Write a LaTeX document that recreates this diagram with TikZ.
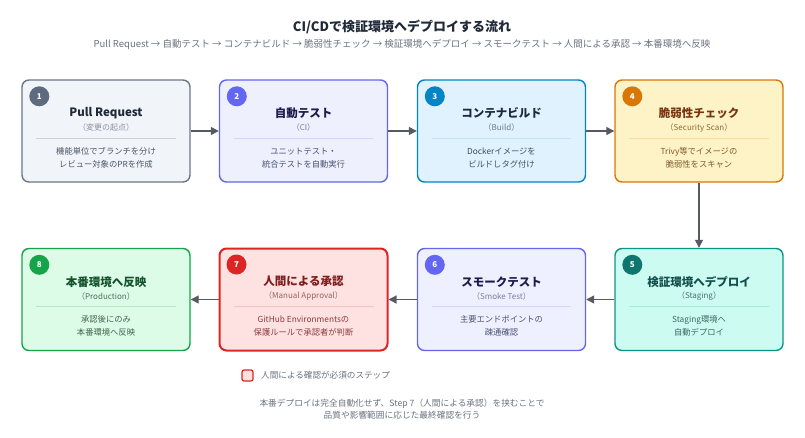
\documentclass[tikz,border=0pt]{standalone}
\usepackage{fontspec}
\setmainfont{Noto Sans CJK JP}
\usetikzlibrary{calc,arrows.meta}
\definecolor{ink}{HTML}{1F2937}
\definecolor{muted}{HTML}{6B7280}
\definecolor{arrowc}{HTML}{555A63}
% step colours: f fill, d border, b badge, t title, s subtitle, x body, v divider
\definecolor{f1}{HTML}{F1F4F9}\definecolor{d1}{HTML}{6B7789}\definecolor{b1}{HTML}{5E6A7E}\definecolor{t1}{HTML}{1F2937}\definecolor{s1}{HTML}{8A929E}\definecolor{x1}{HTML}{4B5563}\definecolor{v1}{HTML}{CDD2DA}
\definecolor{f2}{HTML}{EEF0FE}\definecolor{d2}{HTML}{6366F1}\definecolor{b2}{HTML}{6366F1}\definecolor{t2}{HTML}{1E1B4B}\definecolor{s2}{HTML}{7A7F9A}\definecolor{x2}{HTML}{4B5070}\definecolor{v2}{HTML}{D3D7FB}
\definecolor{f3}{HTML}{E0F2FE}\definecolor{d3}{HTML}{0284C7}\definecolor{b3}{HTML}{0284C7}\definecolor{t3}{HTML}{1E293B}\definecolor{s3}{HTML}{6B7A8A}\definecolor{x3}{HTML}{3F4E5E}\definecolor{v3}{HTML}{C3E3F7}
\definecolor{f4}{HTML}{FEF3C7}\definecolor{d4}{HTML}{D97706}\definecolor{b4}{HTML}{D97706}\definecolor{t4}{HTML}{78350F}\definecolor{s4}{HTML}{8A6A3A}\definecolor{x4}{HTML}{7C5A2A}\definecolor{v4}{HTML}{F8DFA0}
\definecolor{f5}{HTML}{CCFBF1}\definecolor{d5}{HTML}{0D9488}\definecolor{b5}{HTML}{0F766E}\definecolor{t5}{HTML}{134E4A}\definecolor{s5}{HTML}{4F706C}\definecolor{x5}{HTML}{3E6662}\definecolor{v5}{HTML}{A7EADD}
\definecolor{f6}{HTML}{EEF0FF}\definecolor{d6}{HTML}{6366F1}\definecolor{b6}{HTML}{6366F1}\definecolor{t6}{HTML}{1E1B4B}\definecolor{s6}{HTML}{7A7F9A}\definecolor{x6}{HTML}{4B5070}\definecolor{v6}{HTML}{D3D7FB}
\definecolor{f7}{HTML}{FEE2E2}\definecolor{d7}{HTML}{DC2626}\definecolor{b7}{HTML}{DC2626}\definecolor{t7}{HTML}{7F1D1D}\definecolor{s7}{HTML}{9A6060}\definecolor{x7}{HTML}{8B3A3A}\definecolor{v7}{HTML}{F5C2C2}
\definecolor{f8}{HTML}{DCFCE7}\definecolor{d8}{HTML}{16A34A}\definecolor{b8}{HTML}{16A34A}\definecolor{t8}{HTML}{14532D}\definecolor{s8}{HTML}{4F6F58}\definecolor{x8}{HTML}{3F6349}\definecolor{v8}{HTML}{B6E8C6}
\tikzset{
  stepbox/.style={rectangle, rounded corners=7pt, line width=1.4pt, minimum width=168pt, minimum height=102pt, inner sep=0pt},
  badge/.style={circle, minimum size=20pt, inner sep=0pt, text=white, font=\fontsize{8}{9}\selectfont\bfseries},
  steptitle/.style={font=\fontsize{11.5}{13}\selectfont\bfseries, inner sep=0pt},
  stepsub/.style={font=\fontsize{8}{9}\selectfont, inner sep=0pt},
  stepbody/.style={font=\fontsize{8.3}{13}\selectfont, align=center, inner sep=0pt},
  flow/.style={draw=arrowc, line width=1.3pt, -{Triangle[length=8pt,width=8pt]}},
}
\newcommand\mkstep[8]{%
  \node[stepbox, fill=f#1, draw=d#1, #8] (s#1) at (#2,#3) {};
  \node[badge, fill=b#1] (s#1b) at ($(s#1.north west)+(18,17)$) {#1};
  \node[steptitle, text=t#1] (s#1t) at ($(s#1.north)+(0,34)$) {#4};
  \node[stepsub, text=s#1] (s#1s) at ($(s#1.north)+(0,48.5)$) {#5};
  \draw[draw=v#1, line width=0.8pt] ($(s#1.north west)+(15,59)$) -- ($(s#1.north east)+(-15,59)$);
  \node[stepbody, text=x#1] (s#1x) at ($(s#1.north)+(0,78.5)$) {#6\\#7};
}
\begin{document}
\begin{tikzpicture}[x=1pt,y=-1pt]
\useasboundingbox[fill=white] (0,0) rectangle (805,437);
\node[font=\fontsize{13}{15}\selectfont\bfseries, text=ink] (title) at (402,27) {CI/CDで検証環境へデプロイする流れ};
\node[font=\fontsize{9.5}{11}\selectfont, text=muted] (subtitle) at (402,44.5) {Pull Request → 自動テスト → コンテナビルド → 脆弱性チェック → 検証環境へデプロイ → スモークテスト → 人間による承認 → 本番環境へ反映};
\mkstep{1}{106}{131}{Pull Request}{（変更の起点）}{機能単位でブランチを分け}{レビュー対象のPRを作成}{}
\mkstep{2}{303.5}{131}{自動テスト}{（CI）}{ユニットテスト・}{統合テストを自動実行}{}
\mkstep{3}{501.5}{131}{コンテナビルド}{（Build）}{Dockerイメージを}{ビルドしタグ付け}{}
\mkstep{4}{699}{131}{脆弱性チェック}{（Security Scan）}{Trivy等でイメージの}{脆弱性をスキャン}{}
\mkstep{5}{699}{299.5}{検証環境へデプロイ}{（Staging）}{Staging環境へ}{自動デプロイ}{}
\mkstep{6}{501.5}{299.5}{スモークテスト}{（Smoke Test）}{主要エンドポイントの}{疎通確認}{}
\mkstep{7}{303.5}{299.5}{人間による承認}{（Manual Approval）}{GitHub Environmentsの}{保護ルールで承認者が判断}{line width=2pt}
\mkstep{8}{106}{299.5}{本番環境へ反映}{（Production）}{承認後にのみ}{本番環境へ反映}{}
\draw[flow] (s1) -- (s2);
\draw[flow] (s2) -- (s3);
\draw[flow] (s3) -- (s4);
\draw[flow] (s4) -- (s5);
\draw[flow] (s5) -- (s6);
\draw[flow] (s6) -- (s7);
\draw[flow] (s7) -- (s8);
\node[rectangle, rounded corners=2pt, fill=f7, draw=d7, line width=1.2pt, minimum size=11pt, inner sep=0pt] (legbox) at (247.5,375.5) {};
\node[anchor=west, font=\fontsize{8.6}{10}\selectfont, text=muted, inner sep=0pt] (legtext) at (261,375.5) {人間による確認が必須のステップ};
\node[font=\fontsize{8.7}{12.5}\selectfont, text=muted, align=center, inner sep=0pt] (note) at (402,409) {本番デプロイは完全自動化せず、Step 7（人間による承認）を挟むことで\\品質や影響範囲に応じた最終確認を行う};
\end{tikzpicture}
\end{document}
